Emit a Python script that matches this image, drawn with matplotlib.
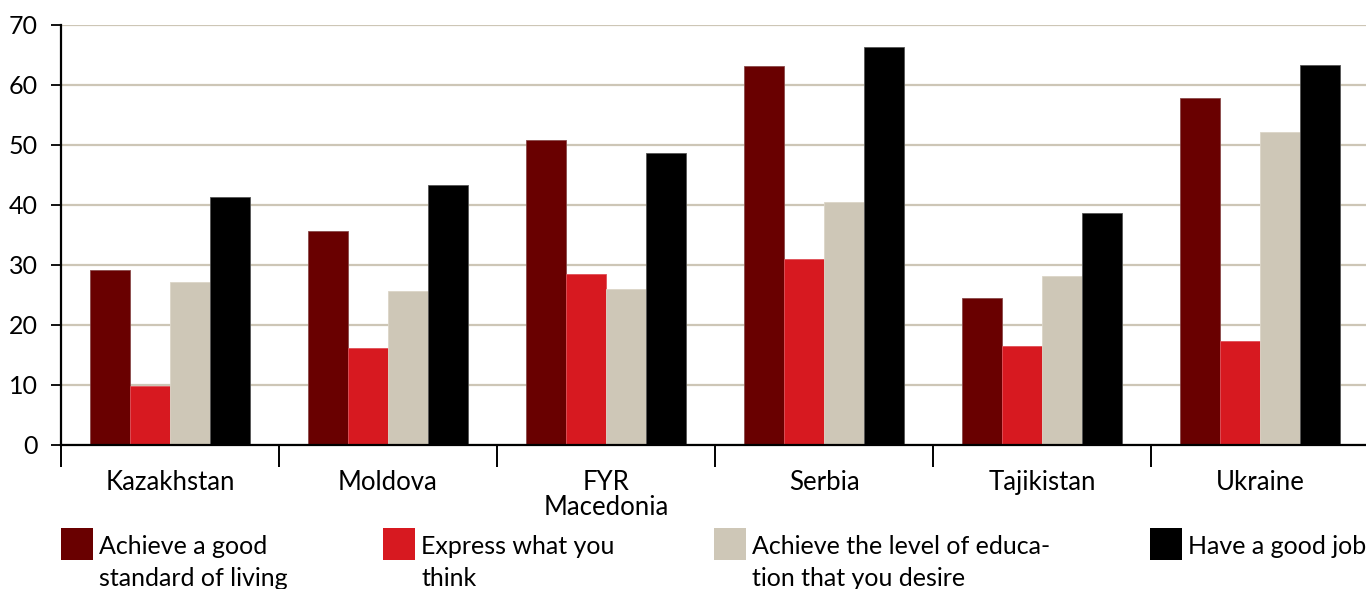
import matplotlib
matplotlib.use("Agg")
import matplotlib.pyplot as plt
from matplotlib.patches import Rectangle
import numpy as np

countries = ["Kazakhstan", "Moldova", "FYR\nMacedonia", "Serbia", "Tajikistan", "Ukraine"]
series_names = [
    "Achieve a good\nstandard of living",
    "Express what you\nthink",
    "Achieve the level of educa-\ntion that you desire",
    "Have a good job",
]
living = [29.1, 35.7, 50.8, 63.2, 24.5, 57.8]
express = [9.9, 16.2, 28.5, 31.0, 16.5, 17.4]
education = [27.2, 25.7, 26.0, 40.5, 28.2, 52.1]
job = [41.3, 43.3, 48.7, 66.3, 38.7, 63.4]
colors = ["#690000", "#d71920", "#cec7b7", "#000000"]
edge_colors = ["#8a4a4a", "#e05058", "#dcd6c8", "#555555"]
yticks = [0, 10, 20, 30, 40, 50, 60, 70]

plt.rcParams["font.family"] = ["Lato", "DejaVu Sans"]
W, H = 1366, 589
fig = plt.figure(figsize=(W / 100, H / 100), dpi=100)
ax = fig.add_axes([61 / W, (H - 445) / H, 1308 / W, 420 / H])

x = np.arange(len(countries))
bw = 0.183
for i, vals in enumerate([living, express, education, job]):
    ax.bar(x + (i - 1.5) * bw, vals, width=bw, color=colors[i],
           edgecolor=edge_colors[i], linewidth=0.6, zorder=3)

ax.set_xlim(-0.5, len(countries) - 0.5)
ax.set_ylim(0, 70)
ax.set_yticks(yticks)
ax.tick_params(axis="y", direction="out", length=7.5, width=1.3,
               labelsize=18, pad=9, colors="black")
ax.yaxis.grid(True, color="#cdc6b6", linewidth=1.6, zorder=0)
ax.set_axisbelow(True)

ax.set_xticks(np.arange(-0.5, len(countries)), minor=True)
ax.set_xticks(x)
ax.set_xticklabels(countries, fontsize=18.5, linespacing=1.0, va="top")
ax.tick_params(axis="x", which="major", length=0, pad=18)
ax.tick_params(axis="x", which="minor", length=16, width=1.4, direction="out")

for s in ["top", "right"]:
    ax.spines[s].set_visible(False)
ax.spines["left"].set_linewidth(1.6)
ax.spines["bottom"].set_linewidth(1.6)
ax.spines["bottom"].set_zorder(4)

# legend: swatch squares with wrapped labels beside them
legend_x = [61, 383, 714, 1150]
sw = 32
top = 528
for i in range(4):
    fig.add_artist(Rectangle((legend_x[i] / W, (H - top - sw) / H), sw / W, sw / H,
                             transform=fig.transFigure, facecolor=colors[i],
                             edgecolor="none"))
    fig.text((legend_x[i] + sw + 6) / W, (H - top - 7) / H, series_names[i],
             fontsize=18, va="top", ha="left", linespacing=1.45)

fig.savefig("out.png", dpi=100)
